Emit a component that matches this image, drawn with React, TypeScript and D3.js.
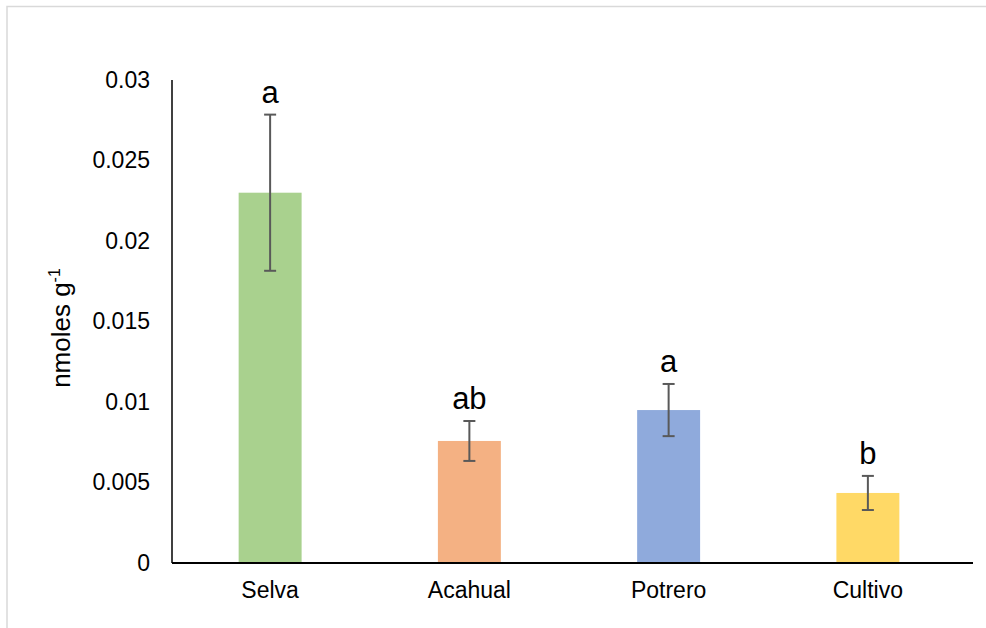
import React from "react";
import * as d3 from "d3";

const categories = ["Selva", "Acahual", "Potrero", "Cultivo"];
const means = [0.023, 0.00758, 0.0095, 0.00435];
const errors = [0.00485, 0.00124, 0.00162, 0.00106];
const groupLetters = ["a", "ab", "a", "b"];
const barColors = ["#A9D18E", "#F4B183", "#8FAADC", "#FFD966"];
const yTicks = [0, 0.005, 0.01, 0.015, 0.02, 0.025, 0.03];

const W = 986;
const H = 628;
const axisLeft = 172;
const axisRight = 973;
const top = 80;
const bottom = 563;
const font = "Liberation Sans, Arial, sans-serif";

export default function App() {
  const x = d3.scaleBand<string>().domain(categories).range([170.5, 967.5]);
  const y = d3.scaleLinear().domain([0, 0.03]).range([bottom, top]);
  const barW = x.step() * 0.316;

  return (
    <svg
      width={W}
      height={H}
      style={{ position: "absolute", left: 0, top: 0, background: "#fff" }}
      fontFamily={font}
    >
      <rect x={7} y={6.5} width={W + 10} height={H + 10} fill="#fff" stroke="#d9d9d9" strokeWidth={1.5} />

      {categories.map((c, i) => {
        const cx = (x(c) as number) + x.bandwidth() / 2;
        const hi = y(means[i] + errors[i]);
        const lo = y(means[i] - errors[i]);
        return (
          <g key={c}>
            <rect x={cx - barW / 2} y={y(means[i])} width={barW} height={bottom - y(means[i])} fill={barColors[i]} />
            <line x1={cx} x2={cx} y1={hi} y2={lo} stroke="#595959" strokeWidth={2} />
            <line x1={cx - 6} x2={cx + 6} y1={hi} y2={hi} stroke="#595959" strokeWidth={2} />
            <line x1={cx - 6} x2={cx + 6} y1={lo} y2={lo} stroke="#595959" strokeWidth={2} />
            <text x={cx} y={hi - 12} textAnchor="middle" fontSize={31} fill="#000">
              {groupLetters[i]}
            </text>
            <text x={cx} y={598} textAnchor="middle" fontSize={23} fill="#000">
              {c}
            </text>
          </g>
        );
      })}

      {yTicks.map((t) => (
        <text key={t} x={150} y={y(t) + 7.5} textAnchor="end" fontSize={23} fill="#000">
          {String(t)}
        </text>
      ))}

      <line x1={axisLeft} x2={axisLeft} y1={top} y2={bottom} stroke="#000" strokeWidth={1.5} />
      <line x1={axisLeft} x2={axisRight} y1={bottom} y2={bottom} stroke="#000" strokeWidth={2} />

      <text transform={`translate(${70},${328}) rotate(-90)`} textAnchor="middle" fontSize={26} fill="#000">
        nmoles g
        <tspan fontSize={16} dy={-10}>-1</tspan>
      </text>
    </svg>
  );
}
